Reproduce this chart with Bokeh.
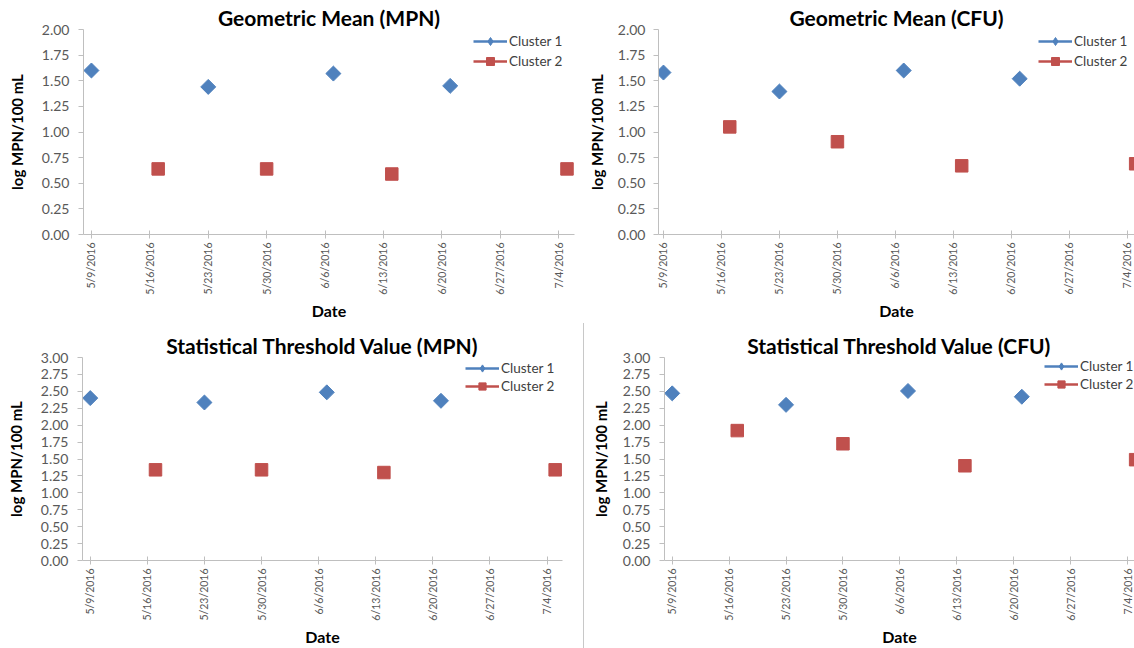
import math
import pandas as pd
from bokeh.plotting import figure
from bokeh.models import (FixedTicker, Range1d, Legend, LegendItem, Div,
                          PrintfTickFormatter)
from bokeh.layouts import row, column
from bokeh.embed import file_html
from bokeh.resources import INLINE

# ---------------- data ----------------
tick_labels = ["5/9/2016", "5/16/2016", "5/23/2016", "5/30/2016", "6/6/2016",
               "6/13/2016", "6/20/2016", "6/27/2016", "7/4/2016"]
cluster1_dates = ["5/9/2016", "5/23/2016", "6/7/2016", "6/21/2016"]
cluster2_dates = ["5/17/2016", "5/30/2016", "6/14/2016", "7/5/2016"]

gm_mpn_cluster1 = [1.60, 1.44, 1.57, 1.45]
gm_mpn_cluster2 = [0.64, 0.64, 0.59, 0.64]
gm_cfu_cluster1 = [1.58, 1.395, 1.60, 1.52]
gm_cfu_cluster2 = [1.05, 0.905, 0.67, 0.69]
stv_mpn_cluster1 = [2.40, 2.335, 2.485, 2.36]
stv_mpn_cluster2 = [1.34, 1.34, 1.30, 1.34]
stv_cfu_cluster1 = [2.47, 2.30, 2.505, 2.42]
stv_cfu_cluster2 = [1.92, 1.725, 1.40, 1.49]

# ---------------- style ----------------
FONT = "Lato"
BLUE = "#4F81BD"
RED = "#C0504D"
AXIS = "#BFBFBF"
TICKTXT = "#595959"


def to_dt(lst):
    return pd.to_datetime(lst, format="%m/%d/%Y")


tick_dt = to_dt(tick_labels)
tick_ms = [float(v) for v in (tick_dt.astype("int64") // 10**6)]
overrides = {ms: lab for ms, lab in zip(tick_ms, tick_labels)}


def make_chart(title, ymax, y1, y2, w, h, mb, pad, end, leg, row_h,
               date_standoff, ylab_standoff, ytick_standoff):
    d1 = to_dt(cluster1_dates)
    d2 = to_dt(cluster2_dates)
    d0 = tick_dt[0]
    x_start = d0 - pd.Timedelta(days=pad)
    x_end = d0 + pd.Timedelta(days=end)
    p = figure(width=w, height=h, x_axis_type="datetime",
               x_range=Range1d(x_start, x_end), y_range=Range1d(0, ymax),
               output_backend="svg", toolbar_location=None,
               min_border_left=mb[0], min_border_right=mb[1],
               min_border_top=mb[2], min_border_bottom=mb[3])
    p.outline_line_color = None
    p.xgrid.visible = False
    p.ygrid.visible = False
    p.background_fill_color = "white"
    p.border_fill_color = "white"

    p.title.text = title
    p.title.align = "center"
    p.title.text_font = FONT
    p.title.text_font_size = "21px"
    p.title.text_font_style = "bold"
    p.title.text_color = "#000000"
    p.title.standoff = 0

    xa = p.xaxis[0]
    xa.ticker = FixedTicker(ticks=tick_ms)
    xa.major_label_overrides = overrides
    xa.major_label_orientation = math.pi / 2
    xa.major_tick_in = 4
    xa.major_tick_out = 4
    xa.minor_tick_line_color = None
    xa.major_label_standoff = 4
    xa.axis_label = "Date"
    xa.axis_label_standoff = date_standoff
    xa.axis_label_text_font_size = "16px"
    xa.major_label_text_font_size = "10.5px"

    ya = p.yaxis[0]
    ya.ticker = FixedTicker(ticks=[i * 0.25 for i in range(int(ymax / 0.25) + 1)])
    ya.formatter = PrintfTickFormatter(format="%.2f")
    ya.major_tick_in = 0
    ya.major_tick_out = 5
    ya.minor_tick_line_color = None
    ya.major_label_standoff = ytick_standoff
    ya.axis_label = "log MPN/100 mL"
    ya.axis_label_standoff = ylab_standoff
    ya.axis_label_text_font_size = "15px"
    ya.major_label_text_font_size = "14px"

    for ax in (xa, ya):
        ax.axis_line_color = AXIS
        ax.major_tick_line_color = AXIS
        ax.major_label_text_font = FONT
        ax.major_label_text_color = TICKTXT
        ax.axis_label_text_font = FONT
        ax.axis_label_text_font_style = "bold"
        ax.axis_label_text_color = "#000000"

    # markers only in the plot; NaN-valued renderers supply the legend's
    # line-with-marker samples
    nan1 = [float("nan")] * len(y1)
    nan2 = [float("nan")] * len(y2)
    l1 = p.line(x=d1, y=nan1, line_color=BLUE, line_width=2.5)
    l2 = p.line(x=d2, y=nan2, line_color=RED, line_width=2.5)
    k1 = p.scatter(x=d1, y=nan1, marker="diamond", fill_color=BLUE,
                   line_color=BLUE)
    p.scatter(x=d1, y=y1, marker="square", angle=math.pi / 4, size=10.6,
              fill_color=BLUE, line_color=BLUE)
    s2 = p.scatter(x=d2, y=y2, marker="square", size=12.5,
                   fill_color=RED, line_color=RED)

    legend = Legend(items=[LegendItem(label="Cluster 1", renderers=[l1, k1]),
                           LegendItem(label="Cluster 2", renderers=[l2, s2])],
                    location=leg, glyph_width=34, glyph_height=row_h,
                    label_height=row_h, spacing=0, padding=0, margin=0,
                    label_standoff=2, background_fill_alpha=0,
                    border_line_color=None, label_text_font=FONT,
                    label_text_font_size="13.5px", label_text_color="#404040")
    p.add_layout(legend)
    return p


p1 = make_chart("Geometric Mean (MPN)", 2.0, gm_mpn_cluster1, gm_mpn_cluster2,
                583, 322, (83, 9, 29, 87), 0.95, 57.9, (390, 163.5), 20,
                3, 13, 9)
p2 = make_chart("Geometric Mean (CFU)", 2.0, gm_cfu_cluster1, gm_cfu_cluster2,
                551, 322, (75, 0, 29, 87), 0.6, 56.86, (380, 163.5), 20,
                3, 9, 8)
p3 = make_chart("Statistical Threshold Value (MPN)", 3.0, stv_mpn_cluster1,
                stv_mpn_cluster2, 583, 326, (82, 21, 35, 87), 0.95, 57.9,
                (383, 164.6), 18, 3, 13, 9)
p4 = make_chart("Statistical Threshold Value (CFU)", 3.0, stv_cfu_cluster1,
                stv_cfu_cluster2, 550, 326, (80, 0, 35, 87), 0.95, 56.86,
                (380, 167.5), 18, 3, 10, 9)

sep = Div(text="", width=1, height=325, margin=(1, 0, 0, 0),
          styles={"background-color": "#C8C8C8"})

layout = column(row(p1, p2), row(p3, sep, p4))

with open("out.html", "w") as f:
    f.write(file_html(layout, INLINE, title="Cluster charts"))
